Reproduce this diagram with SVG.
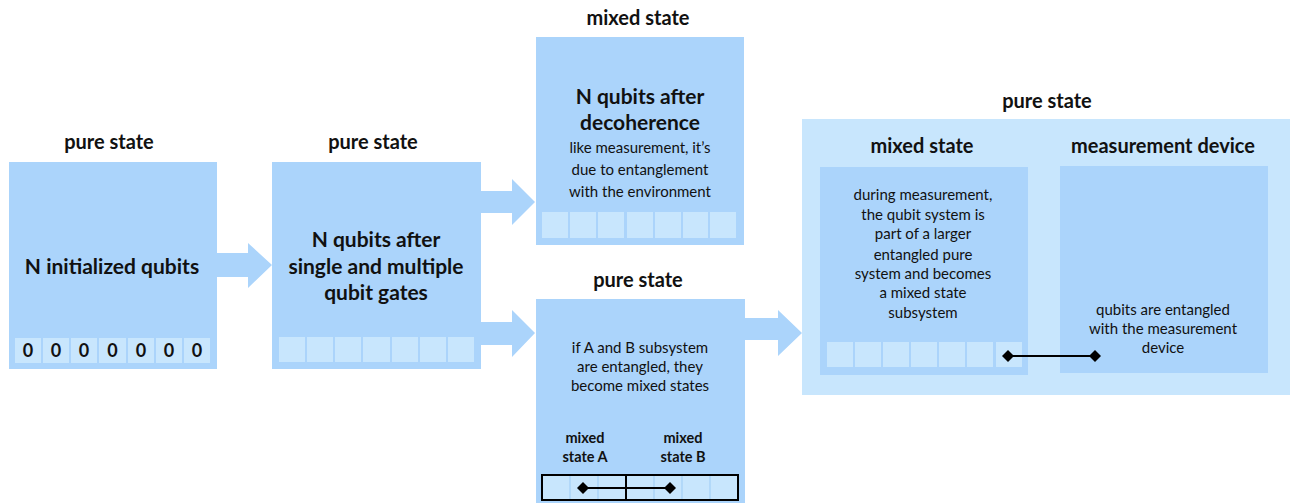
<svg xmlns="http://www.w3.org/2000/svg" width="1290" height="503" viewBox="0 0 1290 503">
<style>
text{font-family:Lato,"Open Sans","Liberation Sans",sans-serif;fill:#111;text-anchor:middle}
.t{font-weight:bold;font-size:20px}
.h{font-weight:bold;font-size:21px}
.s{font-size:15px}
.x{font-size:15px}
.box{fill:#ABD4FB}
.outer{fill:#C8E6FD}
.cell{fill:#C8E6FD}
.arr{fill:#ABD4FB}
.b{font-weight:bold;font-size:14.5px}
</style>
<defs>
<marker id="dia" viewBox="-6 -6 12 12" markerWidth="12" markerHeight="12" markerUnits="userSpaceOnUse" refX="0" refY="0" orient="auto"><path d="M-6 0L0-6L6 0L0 6Z" fill="#000"/></marker>
</defs>

<g id="connectors">
<path class="arr" d="M217 253H248V243L272 265L248 288V277H217Z"/>
<path class="arr" d="M481 191H512V179L535 202L512 225V213H481Z"/>
<path class="arr" d="M481 322H512V310L535 333L512 357V345H481Z"/>
<path class="arr" d="M745 318H778V310L802 333L778 356V340H745Z"/>
</g>

<g id="node-initial">
<text class="t" x="109" y="149">pure state</text>
<rect class="box" x="9" y="162" width="208" height="207"/>
<text class="h" x="112" y="274">N initialized qubits</text>
<g class="cell">
<rect x="15" y="338" width="26" height="25"/><rect x="43" y="338" width="26" height="25"/><rect x="71" y="338" width="26" height="25"/><rect x="99" y="338" width="27" height="25"/><rect x="128" y="338" width="26" height="25"/><rect x="156" y="338" width="26" height="25"/><rect x="184" y="338" width="26" height="25"/>
</g>
<g style="font-weight:bold;font-size:18px">
<text x="28" y="357">0</text><text x="56" y="357">0</text><text x="84" y="357">0</text><text x="112.5" y="357">0</text><text x="141" y="357">0</text><text x="169" y="357">0</text><text x="197" y="357">0</text>
</g>
</g>

<g id="node-gates">
<text class="t" x="373" y="149">pure state</text>
<rect class="box" x="272" y="162" width="209" height="207"/>
<text class="h" x="376" y="247">N qubits after</text>
<text class="h" x="376" y="274">single and multiple</text>
<text class="h" x="376" y="300">qubit gates</text>
<g class="cell">
<rect x="279" y="337" width="26" height="25"/><rect x="307" y="337" width="26" height="25"/><rect x="335" y="337" width="26" height="25"/><rect x="363" y="337" width="27" height="25"/><rect x="392" y="337" width="26" height="25"/><rect x="420" y="337" width="26" height="25"/><rect x="448" y="337" width="26" height="25"/>
</g>
</g>

<g id="node-decoherence">
<text class="t" x="638" y="25">mixed state</text>
<rect class="box" x="536" y="37" width="208" height="208"/>
<text class="h" x="640" y="104">N qubits after</text>
<text class="h" x="640" y="130">decoherence</text>
<text class="s" x="640" y="153">like measurement, it’s</text>
<text class="s" x="640" y="175">due to entanglement</text>
<text class="s" x="640" y="197">with the environment</text>
<g class="cell">
<rect x="542" y="212" width="26" height="26"/><rect x="570" y="212" width="26" height="26"/><rect x="598" y="212" width="26" height="26"/><rect x="627" y="212" width="26" height="26"/><rect x="655" y="212" width="26" height="26"/><rect x="683" y="212" width="25" height="26"/><rect x="710" y="212" width="26" height="26"/>
</g>
</g>

<g id="node-entangled">
<text class="t" x="638" y="287">pure state</text>
<rect class="box" x="536" y="299" width="209" height="204"/>
<text class="s" x="640" y="353">if A and B subsystem</text>
<text class="s" x="640" y="372">are entangled, they</text>
<text class="s" x="640" y="391">become mixed states</text>
<text class="b" x="585" y="443">mixed</text>
<text class="b" x="585" y="462">state A</text>
<text class="b" x="683" y="443">mixed</text>
<text class="b" x="683" y="462">state B</text>
<g class="cell"><rect x="542" y="475" width="196" height="25"/></g>
<g stroke="#9CCBF5" stroke-width="1">
<line x1="570" y1="475" x2="570" y2="500"/><line x1="598" y1="475" x2="598" y2="500"/><line x1="654" y1="475" x2="654" y2="500"/><line x1="682" y1="475" x2="682" y2="500"/><line x1="710" y1="475" x2="710" y2="500"/>
</g>
<rect x="542" y="475" width="196" height="25" fill="none" stroke="#000" stroke-width="2"/>
<line x1="626" y1="475" x2="626" y2="500" stroke="#000" stroke-width="2"/>
<line x1="583" y1="488" x2="670" y2="488" stroke="#000" stroke-width="2" marker-start="url(#dia)" marker-end="url(#dia)"/>
</g>

<g id="node-measurement">
<text class="t" x="1047" y="108">pure state</text>
<rect class="outer" x="802" y="119" width="488" height="276"/>
<g id="node-mixed-sub">
<text class="t" x="922" y="153">mixed state</text>
<rect class="box" x="820" y="167" width="208" height="208"/>
<text class="x" x="923" y="200">during measurement,</text>
<text class="x" x="923" y="220">the qubit system is</text>
<text class="x" x="923" y="239">part of a larger</text>
<text class="x" x="923" y="260">entangled pure</text>
<text class="x" x="923" y="279">system and becomes</text>
<text class="x" x="923" y="298">a mixed state</text>
<text class="x" x="923" y="318">subsystem</text>
<g class="cell">
<rect x="827" y="342" width="26" height="25"/><rect x="855" y="342" width="26" height="25"/><rect x="883" y="342" width="26" height="25"/><rect x="911" y="342" width="26" height="25"/><rect x="939" y="342" width="26" height="25"/><rect x="967" y="342" width="26" height="25"/><rect x="996" y="342" width="26" height="25"/>
</g>
</g>
<g id="node-device">
<text class="t" x="1163" y="153">measurement device</text>
<rect class="box" x="1060" y="166" width="208" height="207"/>
<text class="x" x="1163" y="315">qubits are entangled</text>
<text class="x" x="1163" y="334">with the measurement</text>
<text class="x" x="1163" y="353">device</text>
</g>
<line x1="1008" y1="356" x2="1095" y2="356" stroke="#000" stroke-width="2" marker-start="url(#dia)" marker-end="url(#dia)"/>
</g>
</svg>
